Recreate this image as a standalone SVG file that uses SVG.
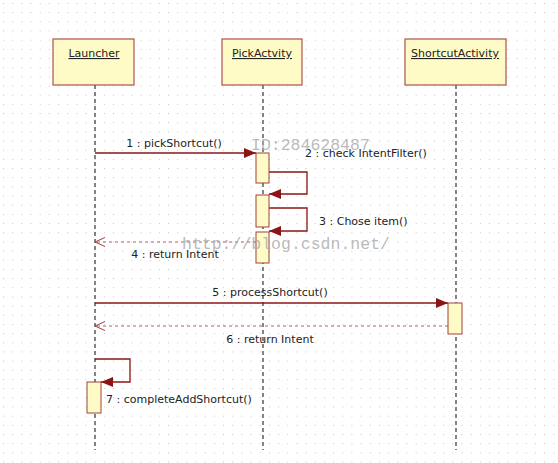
<svg xmlns="http://www.w3.org/2000/svg" width="558" height="463" viewBox="0 0 558 463">
<defs>
<pattern id="dots" x="3" y="3" width="9.17" height="9.17" patternUnits="userSpaceOnUse">
<rect x="0" y="0" width="1" height="1" fill="#c4c4c4"/>
</pattern>
<marker id="filled" viewBox="0 0 12 10" refX="12" refY="5" markerWidth="12" markerHeight="10" markerUnits="userSpaceOnUse" orient="auto">
<path d="M0,0 L12,5 L0,10 Z" fill="#8b1414"/>
</marker>
<marker id="open" viewBox="0 0 10 10" refX="10" refY="5" markerWidth="10" markerHeight="10" markerUnits="userSpaceOnUse" orient="auto">
<path d="M0,0.5 L10,5 L0,9.5" fill="none" stroke="#a04040" stroke-width="1"/>
</marker>
</defs>
<style>
.box{fill:#fffbc6;stroke:#b0504a;stroke-width:1.2}
.act{fill:#fffbc6;stroke:#a0403a;stroke-width:1}
.life{stroke:#333;stroke-width:1.2;stroke-dasharray:4 3;fill:none}
.msg{stroke:#8b1414;stroke-width:1.3;fill:none}
.ret{stroke:#b06060;stroke-width:1;stroke-dasharray:3 3;fill:none}
.lbl{font-family:"DejaVu Sans",Verdana,sans-serif;font-size:11px;fill:#222}
.hdr{font-family:"DejaVu Sans",Verdana,sans-serif;font-size:11px;fill:#222;text-decoration:underline;text-anchor:middle}
.wm{font-family:"Liberation Mono","DejaVu Sans Mono",monospace;font-size:16.5px;fill:#a8a8a8;fill-opacity:0.8}
</style>
<rect width="558" height="463" fill="#ffffff"/>
<rect width="558" height="463" fill="url(#dots)"/>

<g id="connectors">
<line class="life" x1="95" y1="85" x2="95" y2="450"/>
<line class="life" x1="263" y1="85" x2="263" y2="450"/>
<line class="life" x1="456" y1="85" x2="456" y2="450"/>
<line class="msg" x1="95" y1="153" x2="256" y2="153" marker-end="url(#filled)"/>
<polyline class="msg" points="269,172 307,172 307,194 269,194" marker-end="url(#filled)"/>
<polyline class="msg" points="269,208 307,208 307,231 269,231" marker-end="url(#filled)"/>
<line class="ret" x1="256" y1="242" x2="95" y2="242" marker-end="url(#open)"/>
<line class="msg" x1="95" y1="303" x2="448" y2="303" marker-end="url(#filled)"/>
<line class="ret" x1="448" y1="326" x2="95" y2="326" marker-end="url(#open)"/>
<polyline class="msg" points="95,359 130,359 130,382 101,382" marker-end="url(#filled)"/>
</g>

<g id="launcher">
<rect class="box" x="53" y="39" width="81" height="46"/>
<text class="hdr" x="94" y="57">Launcher</text>
</g>
<g id="pickactvity">
<rect class="box" x="222" y="39" width="80" height="46"/>
<text class="hdr" x="262" y="57">PickActvity</text>
</g>
<g id="shortcutactivity">
<rect class="box" x="405" y="39" width="101" height="46"/>
<text class="hdr" x="455" y="57">ShortcutActivity</text>
</g>

<g id="activations">
<rect class="act" x="256" y="153" width="13" height="30"/>
<rect class="act" x="256" y="195" width="13" height="32"/>
<rect class="act" x="256" y="232" width="13" height="31"/>
<rect class="act" x="448" y="303" width="14" height="31"/>
<rect class="act" x="87" y="382" width="14" height="31"/>
</g>

<g id="labels">
<text class="lbl" x="174" y="147" text-anchor="middle">1 : pickShortcut()</text>
<text class="lbl" x="305" y="157">2 : check IntentFilter()</text>
<text class="lbl" x="319" y="225">3 : Chose item()</text>
<text class="lbl" x="175" y="258" text-anchor="middle">4 : return Intent</text>
<text class="lbl" x="270" y="296" text-anchor="middle">5 : processShortcut()</text>
<text class="lbl" x="270" y="343" text-anchor="middle">6 : return Intent</text>
<text class="lbl" x="106" y="403">7 : completeAddShortcut()</text>
</g>

<g id="watermark">
<text class="wm" x="251" y="150">ID:284628487</text>
<text class="wm" x="182" y="249">http://blog.csdn.net/</text>
</g>
</svg>
